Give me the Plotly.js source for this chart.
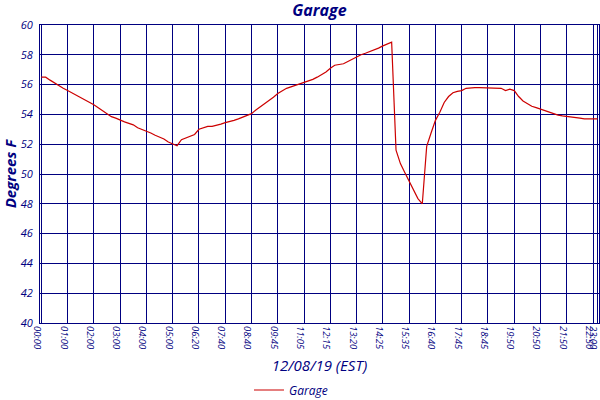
<!DOCTYPE html>
<html>
<head>
<meta charset="utf-8">
<script src="https://cdn.plot.ly/plotly-3.0.1.min.js"></script>
<style>
  html, body { margin: 0; padding: 0; background: #ffffff; }
  #chart { width: 600px; height: 400px; }
</style>
</head>
<body>
<div id="chart"></div>
<script>
// ─── Data ────────────────────────────────────────────────────────────────────

// Sample times (category axis: one slot per reading)
const sampleTimes = [
  '00:00', '00:10', '00:20', '00:30', '00:40', '00:50',
  '01:00', '01:10', '01:20', '01:30', '01:40', '01:50',
  '02:00', '02:10', '02:20', '02:30', '02:40', '02:50',
  '03:00', '03:10', '03:20', '03:30', '03:40', '03:50',
  '04:00', '04:10', '04:20', '04:30', '04:40', '04:50',
  '05:00', '05:15', '05:25', '05:40', '05:55', '06:05',
  '06:20', '06:35', '06:45', '07:00', '07:15', '07:25',
  '07:40', '07:50', '08:00', '08:10', '08:20', '08:30',
  '08:40', '08:50', '09:00', '09:15', '09:25', '09:35',
  '09:45', '10:00', '10:10', '10:25', '10:40', '10:50',
  '11:05', '11:15', '11:30', '11:40', '11:50', '12:05',
  '12:15', '12:25', '12:35', '12:50', '13:00', '13:10',
  '13:20', '13:30', '13:40', '13:55', '14:05', '14:15',
  '14:25', '14:35', '14:50', '15:00', '15:10', '15:25',
  '15:35', '15:45', '15:55', '16:10', '16:20', '16:30',
  '16:40', '16:50', '17:00', '17:15', '17:25', '17:35',
  '17:45', '17:55', '18:05', '18:15', '18:25', '18:35',
  '18:45', '18:55', '19:05', '19:20', '19:30', '19:40',
  '19:50', '20:00', '20:10', '20:20', '20:30', '20:40',
  '20:50', '21:00', '21:10', '21:20', '21:30', '21:40',
  '21:50', '22:00', '22:10', '22:20', '22:30', '22:40',
  '22:50', '23:00',
];

// Garage temperature, degrees F
const garageTemps = [
  56.5, 56.5, 56.3, 56.1, 55.95, 55.75,
  55.6, 55.45, 55.3, 55.1, 54.95, 54.8,
  54.65, 54.45, 54.25, 54.0, 53.85, 53.75,
  53.6, 53.5, 53.4, 53.3, 53.1, 53.0,
  52.9, 52.75, 52.6, 52.5, 52.35, 52.15,
  52.05, 51.9, 52.3, 52.4, 52.55, 52.65,
  53.0, 53.1, 53.2, 53.2, 53.25, 53.35,
  53.45, 53.5, 53.6, 53.7, 53.8, 53.9,
  54.05, 54.3, 54.5, 54.7, 54.9, 55.15,
  55.4, 55.6, 55.75, 55.85, 55.95, 56.05,
  56.1, 56.2, 56.35, 56.5, 56.65, 56.85,
  57.1, 57.3, 57.35, 57.4, 57.55, 57.7,
  57.9, 58.0, 58.1, 58.2, 58.3, 58.45,
  58.6, 58.75, 58.85, 51.6, 50.7, 50.1,
  49.5, 48.95, 48.35, 48.0, 51.85, 52.75,
  53.6, 54.15, 54.8, 55.2, 55.45, 55.55,
  55.6, 55.75, 55.8, 55.8, 55.8, 55.8,
  55.8, 55.8, 55.8, 55.75, 55.6, 55.7,
  55.6, 55.2, 54.9, 54.7, 54.55, 54.45,
  54.35, 54.25, 54.1, 54.0, 53.95, 53.9,
  53.85, 53.8, 53.75, 53.75, 53.7, 53.7,
  53.7, 53.7,
];

// Labelled ticks on the time axis
const tickTimes = [
  '00:00', '01:00', '02:00', '03:00', '04:00', '05:00', '06:20', '07:40',
  '08:40', '09:45', '11:05', '12:15', '13:20', '14:25', '15:35', '16:40',
  '17:45', '18:45', '19:50', '20:50', '21:50', '22:50', '23:00',
];

const yTicks = [40, 42, 44, 46, 48, 50, 52, 54, 56, 58, 60];

// ─── Styling ────────────────────────────────────────────────────────────────

const NAVY = '#000080';
const FONT = 'Open Sans, DejaVu Sans, sans-serif';

const traces = [{
  x: sampleTimes,
  y: garageTemps,
  type: 'scatter',
  mode: 'lines',
  name: 'Garage',
  line: { color: '#cc0000', width: 1.2 },
}];

const layout = {
  width: 600,
  height: 400,
  paper_bgcolor: '#ffffff',
  plot_bgcolor: '#ffffff',
  margin: { l: 40, r: 1, t: 25, b: 77 },
  font: { family: FONT, color: NAVY, size: 11 },
  title: {
    text: 'Garage',
    x: 0.5,
    xref: 'paper',
    y: 0.975,
    yanchor: 'middle',
    font: { family: FONT, size: 16, weight: 'bold', style: 'italic', color: NAVY },
  },
  xaxis: {
    type: 'category',
    automargin: false,
    range: [-0.3, sampleTimes.length - 1 + 0.35],
    tickmode: 'array',
    tickvals: tickTimes,
    ticktext: tickTimes,
    tickangle: 90,
    ticklabelshift: -4,
    tickfont: { family: FONT, size: 9.5, style: 'italic', color: NAVY },
    ticks: '',
    showgrid: true,
    gridcolor: NAVY,
    gridwidth: 1,
    showline: true,
    linecolor: NAVY,
    linewidth: 1,
    mirror: true,
    zeroline: false,
    title: {
      text: '12/08/19 (EST)',
      standoff: 16,
      font: { family: FONT, size: 15, style: 'italic', color: NAVY },
    },
  },
  yaxis: {
    automargin: false,
    range: [40, 60],
    tickmode: 'array',
    tickvals: yTicks,
    ticktext: yTicks.map(String),
    tickfont: { family: FONT, size: 11, style: 'italic', color: NAVY },
    ticks: '',
    ticklabelstandoff: 4,
    showgrid: true,
    gridcolor: NAVY,
    gridwidth: 1,
    showline: true,
    linecolor: NAVY,
    linewidth: 1,
    mirror: true,
    zeroline: false,
    title: {
      text: 'Degrees F',
      standoff: 8,
      font: { family: FONT, size: 15, weight: 'bold', style: 'italic', color: NAVY },
    },
  },
  showlegend: true,
  legend: {
    orientation: 'h',
    xref: 'paper',
    x: 0.449,
    xanchor: 'center',
    yref: 'container',
    y: 0.025,
    yanchor: 'middle',
    font: { family: FONT, size: 12, style: 'italic', color: NAVY },
    itemwidth: 30,
  },
};

Plotly.newPlot('chart', traces, layout, { displayModeBar: false, staticPlot: true });
</script>
</body>
</html>
